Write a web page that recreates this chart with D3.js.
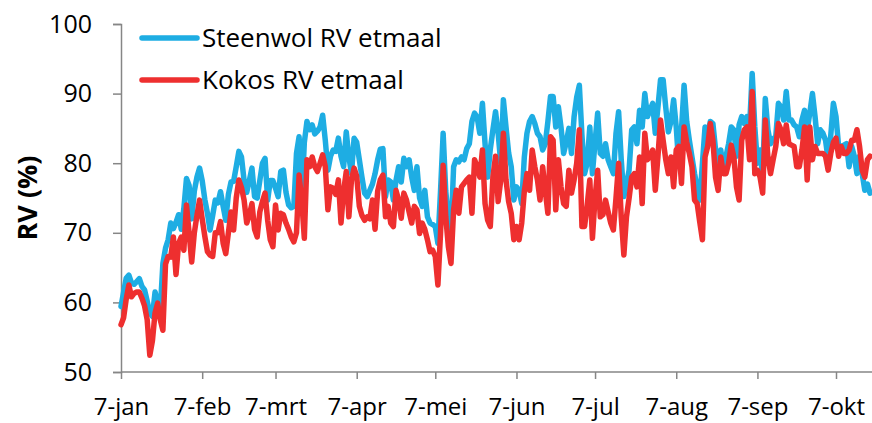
<!DOCTYPE html>
<html>
<head>
<meta charset="utf-8">
<script src="https://cdn.jsdelivr.net/npm/d3@7"></script>
<style>
  body { margin: 0; background: #fff; }
  text { font-family: "Open Sans", sans-serif; fill: #000; }
</style>
</head>
<body>
<svg id="chart" width="872" height="423"></svg>
<script>
// daily values, starting 7 jan
const startDay = new Date(2013, 0, 7);

const steenwol = [
  59.4, 61.5, 63.5, 63.9, 62.8, 62.6, 63.0, 63.4, 62.3, 61.8,
  60.2, 58.5, 58.0, 61.5, 60.0, 59.0, 65.6, 67.8, 69.0, 71.4,
  70.6, 71.5, 72.6, 70.5, 73.5, 77.8, 76.8, 72.0, 76.0, 78.0,
  79.3, 77.5, 74.8, 72.8, 70.4, 72.5, 74.7, 74.3, 75.9, 73.8,
  71.8, 75.5, 77.3, 77.4, 79.5, 81.7, 80.9, 77.5, 75.8, 77.5,
  79.3, 75.2, 75.0, 77.5, 80.0, 80.7, 74.7, 77.5, 77.5, 76.4,
  75.2, 78.8, 79.0, 75.8, 74.0, 73.6, 73.8, 81.4, 83.8, 74.5,
  83.0, 86.0, 84.8, 85.5, 84.2, 84.6, 85.2, 86.9, 83.3, 79.0,
  81.0, 81.9, 81.7, 83.6, 81.0, 79.5, 84.5, 80.9, 78.5, 83.6,
  83.0, 80.5, 78.0, 75.7, 75.2, 76.1, 77.0, 78.5, 80.5, 82.0,
  82.1, 75.2, 77.6, 77.3, 74.7, 77.5, 79.5, 77.3, 80.7, 79.5,
  80.5, 78.0, 76.1, 79.5, 75.0, 73.8, 76.1, 72.3, 71.4, 71.2,
  70.9, 68.5, 76.0, 84.3, 76.0, 72.0, 69.9, 79.5, 80.5, 80.2,
  80.9, 80.5, 82.1, 82.8, 86.0, 87.2, 86.6, 84.3, 88.6, 82.8,
  78.0, 82.0, 84.8, 87.4, 84.3, 80.0, 89.1, 85.2, 81.5, 79.5,
  74.7, 76.6, 76.1, 74.2, 80.9, 84.3, 86.0, 86.7, 85.7, 84.3,
  83.8, 81.9, 82.8, 86.0, 89.6, 89.6, 85.2, 88.1, 85.2, 81.4,
  83.0, 85.0, 81.4, 86.7, 89.5, 91.2, 84.0, 78.5, 80.0, 85.2,
  78.5, 83.0, 87.2, 81.4, 81.0, 82.8, 80.5, 79.5, 78.5, 84.3,
  87.4, 80.5, 75.2, 77.0, 79.0, 84.8, 85.2, 82.8, 87.6, 85.2,
  90.0, 86.7, 87.6, 88.6, 84.3, 88.0, 92.0, 92.0, 88.0, 84.5,
  86.0, 89.1, 85.2, 79.5, 84.8, 91.2, 86.0, 83.3, 80.9, 78.5,
  76.5, 74.7, 80.0, 85.2, 83.8, 86.0, 85.7, 82.0, 79.0, 81.9,
  79.0, 81.0, 82.8, 85.2, 84.8, 81.0, 85.5, 86.7, 85.7, 86.7,
  85.2, 92.9, 85.2, 80.0, 81.9, 78.0, 89.3, 84.8, 82.8, 83.5,
  83.8, 88.6, 88.1, 86.2, 90.3, 86.2, 86.2, 85.5, 85.2, 83.8,
  86.2, 87.6, 84.8, 87.2, 90.0, 86.7, 82.8, 84.8, 84.3, 83.3,
  80.5, 84.0, 88.6, 86.7, 82.4, 82.4, 82.6, 82.8, 79.5, 82.4,
  81.0, 78.5, 81.0, 78.5, 76.1, 77.0, 75.7
];

const kokos = [
  56.8, 57.8, 60.5, 62.5, 60.8, 61.3, 61.5, 61.5, 60.6, 59.5,
  57.5, 52.4, 54.5, 58.5, 59.9, 57.5, 56.0, 65.5, 66.6, 66.5,
  69.4, 64.0, 68.5, 69.4, 67.5, 74.0, 70.0, 65.8, 70.0, 72.5,
  74.7, 72.0, 69.5, 67.3, 66.8, 66.6, 70.0, 70.0, 71.6, 68.5,
  67.0, 70.0, 73.0, 70.4, 75.0, 77.6, 76.5, 74.7, 71.4, 72.5,
  74.2, 70.5, 69.4, 73.0, 74.5, 75.7, 71.8, 69.0, 68.0, 74.0,
  70.4, 72.8, 72.6, 71.4, 70.5, 69.4, 68.7, 70.0, 78.3, 74.7,
  69.2, 80.5, 79.5, 80.9, 79.5, 78.8, 80.0, 81.2, 79.5, 73.3,
  76.6, 76.4, 75.5, 77.6, 71.4, 76.0, 78.8, 72.3, 77.6, 79.3,
  78.1, 73.8, 72.5, 71.8, 72.3, 72.0, 74.7, 70.5, 76.0, 77.6,
  78.3, 72.3, 73.8, 71.4, 70.9, 76.1, 74.7, 72.1, 75.7, 74.7,
  73.0, 71.4, 73.8, 73.3, 69.9, 71.4, 70.5, 69.0, 67.3, 67.5,
  66.6, 62.5, 69.9, 79.7, 72.3, 68.0, 65.6, 73.3, 76.1, 72.8,
  76.6, 77.1, 77.6, 78.0, 72.8, 80.5, 79.5, 78.0, 81.9, 74.2,
  71.8, 70.9, 78.0, 81.0, 74.5, 77.6, 84.3, 77.6, 74.5, 72.8,
  69.0, 70.9, 69.0, 71.4, 76.0, 78.5, 76.1, 81.9, 79.5, 77.6,
  74.7, 79.5, 76.0, 72.8, 83.8, 83.3, 73.3, 80.5, 76.6, 74.2,
  73.8, 79.0, 75.7, 77.6, 80.0, 84.8, 70.9, 70.9, 74.0, 77.6,
  69.2, 75.0, 79.0, 72.3, 72.6, 74.7, 73.0, 71.4, 70.4, 75.0,
  80.0, 72.3, 66.8, 72.3, 75.0, 78.0, 78.5, 76.6, 80.9, 74.2,
  84.3, 80.5, 81.0, 81.9, 76.1, 80.9, 86.2, 83.3, 80.5, 78.5,
  80.9, 76.6, 81.9, 82.4, 77.1, 85.2, 83.0, 81.4, 79.5, 74.7,
  74.2, 71.5, 69.0, 80.9, 82.4, 85.7, 83.3, 78.0, 76.1, 80.9,
  78.5, 78.5, 80.0, 82.6, 80.9, 76.6, 74.7, 83.3, 84.8, 85.2,
  80.5, 90.3, 78.5, 79.0, 78.0, 75.7, 86.2, 80.9, 78.5, 80.5,
  82.4, 85.7, 84.8, 82.8, 85.5, 82.8, 82.6, 82.4, 79.5, 79.5,
  81.9, 85.2, 77.6, 85.2, 80.5, 82.4, 81.4, 81.4, 81.4, 81.0,
  79.0, 81.4, 83.0, 83.6, 81.0, 82.4, 81.4, 81.4, 81.9, 83.3,
  83.3, 84.8, 82.4, 79.0, 78.0, 80.5, 81.0
];

const tickDates = [
  new Date(2013, 0, 7), new Date(2013, 1, 7), new Date(2013, 2, 7),
  new Date(2013, 3, 7), new Date(2013, 4, 7), new Date(2013, 5, 7),
  new Date(2013, 6, 7), new Date(2013, 7, 7), new Date(2013, 8, 7),
  new Date(2013, 9, 7)
];
const tickLabels = ['7-jan', '7-feb', '7-mrt', '7-apr', '7-mei', '7-jun',
  '7-jul', '7-aug', '7-sep', '7-okt'];
const yTicks = [50, 60, 70, 80, 90, 100];

const seriesNames = ['Steenwol RV etmaal', 'Kokos RV etmaal'];
const blue = '#1eade3';
const red = '#ee2f2f';
const axisGrey = '#868686';

const svg = d3.select('#chart');

const x = d3.scaleTime()
  .domain([tickDates[0], tickDates[tickDates.length - 1]])
  .range([121, 836]);
const y = d3.scaleLinear().domain([50, 100]).range([372, 24]);

const days = steenwol.map((v, i) => d3.timeDay.offset(startDay, i));

// y axis
const yAxis = svg.append('g')
  .attr('transform', 'translate(121,0)')
  .call(d3.axisLeft(y).tickValues(yTicks).tickSize(8));
yAxis.select('.domain').attr('stroke', axisGrey).attr('stroke-width', 1.5);
yAxis.selectAll('.tick line').attr('stroke', axisGrey).attr('stroke-width', 1.5);
yAxis.selectAll('.tick text')
  .attr('font-family', '"Open Sans", sans-serif')
  .attr('font-size', 25)
  .attr('fill', '#000')
  .attr('x', -29);

// x axis
const xAxis = svg.append('g')
  .attr('transform', 'translate(0,372)')
  .call(d3.axisBottom(x).tickValues(tickDates).tickSize(7)
    .tickFormat((d, i) => tickLabels[i]));
xAxis.select('.domain')
  .attr('d', 'M121,0H872')
  .attr('stroke', axisGrey).attr('stroke-width', 1.5);
xAxis.selectAll('.tick line').attr('stroke', axisGrey).attr('stroke-width', 1.5);
xAxis.selectAll('.tick text')
  .attr('font-family', '"Open Sans", sans-serif')
  .attr('font-size', 24)
  .attr('fill', '#000')
  .attr('dy', null)
  .attr('y', 43);

// y label
svg.append('text')
  .attr('transform', 'translate(37,198) rotate(-90)')
  .attr('text-anchor', 'middle')
  .attr('font-size', 27)
  .attr('font-weight', 'bold')
  .text('RV (%)');

const line = d3.line()
  .x((d, i) => x(days[i]))
  .y(d => y(d));

svg.append('path')
  .datum(steenwol)
  .attr('fill', 'none')
  .attr('stroke', blue)
  .attr('stroke-width', 5.5)
  .attr('stroke-linejoin', 'round')
  .attr('stroke-linecap', 'round')
  .attr('d', line);

svg.append('path')
  .datum(kokos)
  .attr('fill', 'none')
  .attr('stroke', red)
  .attr('stroke-width', 5.5)
  .attr('stroke-linejoin', 'round')
  .attr('stroke-linecap', 'round')
  .attr('d', line);

// legend
const legend = svg.append('g');
const legendColors = [blue, red];
const legendY = [38, 80];
seriesNames.forEach((name, i) => {
  legend.append('line')
    .attr('x1', 142).attr('x2', 197)
    .attr('y1', legendY[i]).attr('y2', legendY[i])
    .attr('stroke', legendColors[i])
    .attr('stroke-width', 5.5)
    .attr('stroke-linecap', 'round');
  legend.append('text')
    .attr('x', 202)
    .attr('y', legendY[i] + 9)
    .attr('font-size', 26)
    .text(name);
});
</script>
</body>
</html>
